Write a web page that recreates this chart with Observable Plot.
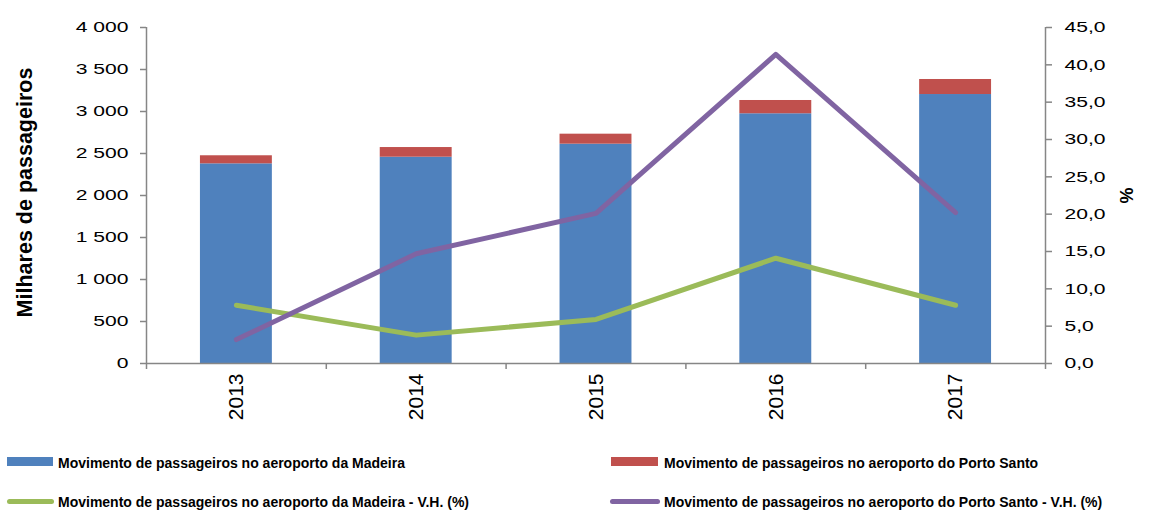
<!DOCTYPE html>
<html>
<head>
<meta charset="utf-8">
<script src="https://cdn.jsdelivr.net/npm/d3@7"></script>
<script src="https://cdn.jsdelivr.net/npm/@observablehq/plot@0.6"></script>
<style>
  html, body { margin: 0; padding: 0; background: #fff; }
  #wrap { position: relative; width: 1173px; height: 511px; font-family: "Liberation Sans", Arial, sans-serif; }
  .sw { position: absolute; }
  .lt { position: absolute; font-size: 14px; font-weight: bold; line-height: 16px; white-space: nowrap; color: #000; }
</style>
</head>
<body>
<div id="wrap"></div>
<script>
// ---- data ----
const years = [2013, 2014, 2015, 2016, 2017];
const madeira = [2377, 2456, 2611, 2973, 3202];      // milhares de passageiros
const portoSanto = [96, 115, 119, 158, 179];          // milhares de passageiros
const madeiraVH = [7.8, 3.8, 5.9, 14.1, 7.8];         // %
const portoSantoVH = [3.2, 14.7, 20.1, 41.4, 20.2];   // %
const leftTicks = [0, 500, 1000, 1500, 2000, 2500, 3000, 3500, 4000];
const rightTicks = [0, 5, 10, 15, 20, 25, 30, 35, 40, 45];
const seriesNames = [
  "Movimento de passageiros no aeroporto da Madeira",
  "Movimento de passageiros no aeroporto do Porto Santo",
  "Movimento de passageiros no aeroporto da Madeira - V.H. (%)",
  "Movimento de passageiros no aeroporto do Porto Santo - V.H. (%)"
];
const yLabelLeft = "Milhares de passageiros";
const yLabelRight = "%";

const BLUE = "#4F81BD", RED = "#C0504D", GREEN = "#9BBB59", PURPLE = "#8064A2", GRAY = "#868686";
const Y_MAX = 4000, P_MAX = 45;
const k = Y_MAX / P_MAX; // map % onto left scale units

const rows = years.map((year, i) => ({
  year, madeira: madeira[i], ps: portoSanto[i], mVH: madeiraVH[i], psVH: portoSantoVH[i]
}));

const fmtThousands = v => d3.format(",")(v).replace(/,/g, " ");
const fmtPct = v => (v / k).toFixed(1).replace(".", ",");

const chart = Plot.plot({
  width: 1173,
  height: 440,
  marginLeft: 146,
  marginRight: 128,
  marginTop: 27,
  marginBottom: 77,
  style: { fontFamily: "Liberation Sans, Arial, sans-serif", fontSize: "16px", color: "#000", background: "#fff", overflow: "visible" },
  x: { domain: [2012.5, 2017.5] },
  y: { domain: [0, Y_MAX] },
  marks: [
    Plot.rect(rows, { x1: d => d.year - 0.2, x2: d => d.year + 0.2, y1: 0, y2: "madeira", fill: BLUE }),
    Plot.rect(rows, { x1: d => d.year - 0.2, x2: d => d.year + 0.2, y1: "madeira", y2: d => d.madeira + d.ps, fill: RED }),
    Plot.ruleY([0], { stroke: GRAY, strokeWidth: 1.5 }),
    Plot.ruleX([2012.5, 2017.5], { stroke: GRAY, strokeWidth: 1.5 }),
    Plot.line(rows, { x: "year", y: d => d.mVH * k, stroke: GREEN, strokeWidth: 5, strokeLinecap: "round", strokeLinejoin: "round" }),
    Plot.line(rows, { x: "year", y: d => d.psVH * k, stroke: PURPLE, strokeWidth: 5, strokeLinecap: "round", strokeLinejoin: "round" }),
    Plot.axisY({ anchor: "left", ticks: leftTicks, tickSize: 6, tickPadding: 12, tickFormat: fmtThousands, stroke: GRAY, strokeWidth: 1.5, label: null, fontSize: 15.5 }),
    Plot.axisY({ anchor: "right", ticks: rightTicks.map(p => p * k), tickSize: 6, tickPadding: 13, tickFormat: fmtPct, stroke: GRAY, strokeWidth: 1.5, label: null, fontSize: 15.5 }),
    Plot.axisX({ anchor: "bottom", ticks: [2012.5, 2013.5, 2014.5, 2015.5, 2016.5, 2017.5], tickSize: 6, tickFormat: () => "", stroke: GRAY, strokeWidth: 1.5, label: null }),
    Plot.axisX({ anchor: "bottom", ticks: years, tickSize: 0, tickPadding: 10, tickRotate: -90, tickFormat: d => String(d), label: null, fontSize: 21 }),
    Plot.text([yLabelLeft], { frameAnchor: "left", textAnchor: "middle", dx: -121, dy: -3, rotate: -90, fontWeight: "bold", fontSize: 21.5, fill: "#000" }),
    Plot.text([yLabelRight], { frameAnchor: "right", textAnchor: "middle", dx: 82, rotate: -90, fontWeight: "bold", fontSize: 18, fill: "#000" })
  ]
});

// widen the horizontal tick labels (the reference's digits are wide)
d3.select(chart).selectAll('g[aria-label="y-axis tick label"] text').each(function () {
  const t = this.getAttribute("transform");
  if (t) {
    this.setAttribute("transform", t + " scale(1.36,1)");
  } else {
    const x = +this.getAttribute("x") || 0, y = +this.getAttribute("y") || 0;
    this.setAttribute("transform", `translate(${x},${y}) scale(1.36,1) translate(${-x},${-y})`);
  }
});

const wrap = document.getElementById("wrap");
chart.style.position = "absolute";
chart.style.left = "0px";
chart.style.top = "0px";
wrap.appendChild(chart);

// legend
const legend = [
  { name: seriesNames[0], color: BLUE, type: "box", sx: 7, sy: 457, sw: 46, tx: 58, ty: 455 },
  { name: seriesNames[1], color: RED, type: "box", sx: 611, sy: 457, sw: 47, tx: 664, ty: 455 },
  { name: seriesNames[2], color: GREEN, type: "line", sx: 7, sy: 499, sw: 47, tx: 58, ty: 494 },
  { name: seriesNames[3], color: PURPLE, type: "line", sx: 610, sy: 499, sw: 50, tx: 664, ty: 494 }
];
for (const item of legend) {
  const s = document.createElement("div");
  s.className = "sw";
  s.style.left = item.sx + "px";
  s.style.top = item.sy + "px";
  s.style.width = item.sw + "px";
  s.style.height = (item.type === "box" ? 9 : 5) + "px";
  s.style.background = item.color;
  if (item.type === "line") s.style.borderRadius = "3px";
  wrap.appendChild(s);
  const t = document.createElement("div");
  t.className = "lt";
  t.style.left = item.tx + "px";
  t.style.top = item.ty + "px";
  t.textContent = item.name;
  wrap.appendChild(t);
}
</script>
</body>
</html>
